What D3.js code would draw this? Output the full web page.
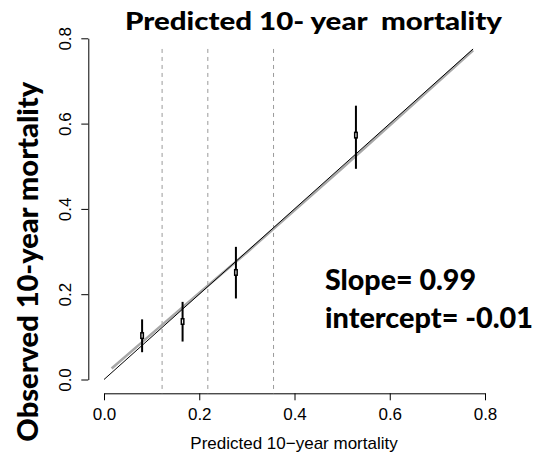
<!DOCTYPE html>
<html>
<head>
<meta charset="utf-8">
<script src="https://cdn.jsdelivr.net/npm/d3@7"></script>
<style>
  body { margin: 0; background: #fff; }
  .tick-label { font-family: "Liberation Sans", Arial, sans-serif; font-size: 17px; fill: #000; }
  .bold-label { font-family: Lato, "Open Sans", sans-serif; font-weight: 900; fill: #000; white-space: pre; }
</style>
</head>
<body>
<svg id="chart"></svg>
<script>
// decile groups: predicted vs observed with 95% CI
const predicted = [0.080, 0.165, 0.277, 0.529];
const observed  = [0.103, 0.136, 0.251, 0.573];
const lowerCI   = [0.064, 0.089, 0.190, 0.494];
const upperCI   = [0.141, 0.182, 0.311, 0.642];

// risk group cut points (dashed lines)
const groupCuts = [0.122, 0.218, 0.356];

// ideal line and smoothed calibration curve
const idealX  = [0, 0.775];
const idealY  = [0, 0.775];
const smoothX = [0.016, 0.10, 0.20, 0.30, 0.50, 0.775];
const smoothY = [0.026, 0.107, 0.203, 0.298, 0.495, 0.772];

const tickValues = [0, 0.2, 0.4, 0.6, 0.8];
const titleText = 'Predicted 10- year  mortality';
const xTitle = 'Predicted 10\u2212year mortality';
const yTitle = 'Observed 10-year mortality';
const statLines = ['Slope= 0.99', 'intercept= -0.01'];

const width = 536, height = 453;

const svg = d3.select('#chart')
    .attr('width', width)
    .attr('height', height);

const xScale = d3.scaleLinear().domain([0, 0.8]).range([104, 485]);
const yScale = d3.scaleLinear().domain([0, 0.8]).range([379.5, 38.3]);

// plot region edges (R style 4% padding)
const plotBottom = 393.3;
const plotLeft = 88.3;

// axes
const xAxis = d3.axisBottom(xScale).tickValues(tickValues).tickSize(7).tickSizeOuter(0).tickFormat(d3.format('.1f'));
const yAxis = d3.axisLeft(yScale).tickValues(tickValues).tickSize(7).tickSizeOuter(0).tickFormat(d3.format('.1f'));

const xAxisG = svg.append('g')
    .attr('transform', `translate(0,${plotBottom})`)
    .call(xAxis);
xAxisG.selectAll('text')
    .attr('class', 'tick-label')
    .attr('y', 26.7)
    .attr('dy', null);

const yAxisG = svg.append('g')
    .attr('transform', `translate(${plotLeft},0)`)
    .call(yAxis);
yAxisG.selectAll('text')
    .attr('class', 'tick-label')
    .attr('transform', 'rotate(-90)')
    .attr('x', 0)
    .attr('y', -17.3)
    .attr('dy', null)
    .attr('text-anchor', 'middle');

[xAxisG, yAxisG].forEach(g => {
  g.attr('font-family', null).attr('font-size', null);
  g.selectAll('.domain, line').attr('stroke', '#000').attr('stroke-width', 1);
});

// dashed group cut lines
svg.selectAll('.cut')
    .data(groupCuts)
    .join('line')
    .attr('class', 'cut')
    .attr('x1', d => xScale(d))
    .attr('x2', d => xScale(d))
    .attr('y1', yScale(0.775))
    .attr('y2', plotBottom)
    .attr('stroke', '#9a9a9a')
    .attr('stroke-width', 1)
    .attr('stroke-dasharray', '4,4');

// smoothed curve (gray) then ideal line (black)
const line = d3.line().x(d => xScale(d[0])).y(d => yScale(d[1]));

svg.append('path')
    .datum(d3.zip(smoothX, smoothY))
    .attr('d', line)
    .attr('fill', 'none')
    .attr('stroke', '#a8a8a8')
    .attr('stroke-width', 2.6);

svg.append('path')
    .datum(d3.zip(idealX, idealY))
    .attr('d', line)
    .attr('fill', 'none')
    .attr('stroke', '#000')
    .attr('stroke-width', 1);

// error bars
const groups = predicted.map((p, i) => ({p, o: observed[i], lo: lowerCI[i], hi: upperCI[i]}));

svg.selectAll('.ci')
    .data(groups)
    .join('line')
    .attr('class', 'ci')
    .attr('x1', d => xScale(d.p))
    .attr('x2', d => xScale(d.p))
    .attr('y1', d => yScale(d.lo))
    .attr('y2', d => yScale(d.hi))
    .attr('stroke', '#000')
    .attr('stroke-width', 2);

svg.selectAll('.point')
    .data(groups)
    .join('rect')
    .attr('class', 'point')
    .attr('x', d => xScale(d.p) - 1.25)
    .attr('y', d => yScale(d.o) - 2.75)
    .attr('width', 2.5)
    .attr('height', 5.5)
    .attr('fill', '#fff')
    .attr('stroke', '#000')
    .attr('stroke-width', 1.5);

// titles
svg.append('text')
    .attr('class', 'bold-label')
    .attr('x', 125)
    .attr('y', 30)
    .attr('font-size', 25)
    .attr('textLength', 377)
    .attr('lengthAdjust', 'spacingAndGlyphs')
    .text(titleText);

svg.append('text')
    .attr('class', 'tick-label')
    .attr('x', 294)
    .attr('y', 449)
    .attr('text-anchor', 'middle')
    .text(xTitle);

svg.append('text')
    .attr('class', 'bold-label')
    .attr('transform', 'translate(37.7,261.7) rotate(-90)')
    .attr('text-anchor', 'middle')
    .attr('font-size', 29)
    .attr('textLength', 360)
    .attr('lengthAdjust', 'spacingAndGlyphs')
    .text(yTitle);

// slope / intercept annotation
const statLengths = [151, 208];
svg.selectAll('.stat')
    .data(statLines)
    .join('text')
    .attr('class', 'bold-label stat')
    .attr('x', 325)
    .attr('y', (d, i) => 290 + i * 38)
    .attr('font-size', 28)
    .attr('textLength', (d, i) => statLengths[i])
    .attr('lengthAdjust', 'spacingAndGlyphs')
    .text(d => d);
</script>
</body>
</html>
